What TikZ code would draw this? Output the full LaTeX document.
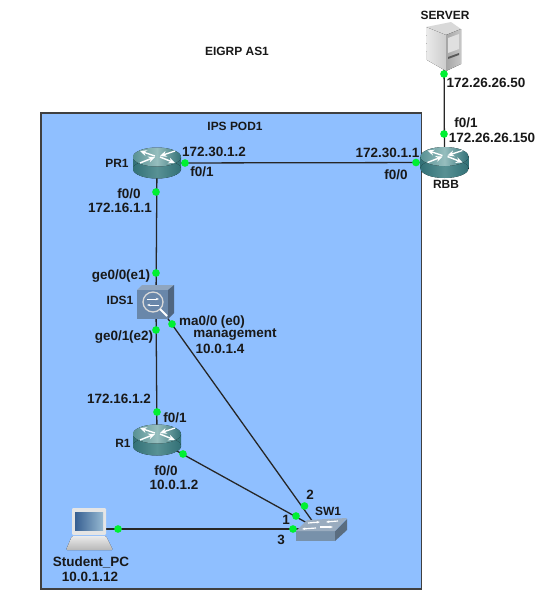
\documentclass[tikz,border=0pt]{standalone}
\usepackage{fontspec}
\setmainfont{Liberation Sans}
\usetikzlibrary{positioning,arrows.meta,calc}
\definecolor{podblue}{RGB}{143,191,255}
\definecolor{routerdark}{RGB}{50,112,118}
\definecolor{routerlight}{RGB}{88,145,148}
\definecolor{routertop}{RGB}{150,190,190}
\definecolor{portgreen}{RGB}{0,240,50}
\definecolor{idsblue}{RGB}{105,135,170}
\definecolor{swgray}{RGB}{120,145,170}
\tikzset{
  podbox/.style={draw=black!75, line width=1.2pt, fill=podblue},
  linkline/.style={line width=1.1pt, black!85},
  portdot/.style={circle, fill=portgreen, inner sep=0pt, minimum size=0.23cm},
  devnode/.style={inner sep=0pt, minimum size=0.3cm},
  lbl/.style={font=\fontsize{11.5}{13}\selectfont\bfseries, inner sep=0pt, text=black!90},
  capslbl/.style={font=\fontsize{10.2}{12}\selectfont\bfseries, inner sep=0pt, text=black!90},
  routerarrow/.style={-{Stealth[length=2mm,width=1.8mm]}, white, line width=1.2pt},
  routerpic/.pic={
    \fill[left color=routerdark, right color=routerdark, middle color=routerlight] (-24,-6) rectangle (24,6);
    \fill[left color=routerdark, right color=routerdark, middle color=routerlight] (0,6) ellipse [x radius=24, y radius=9.5];
    \fill[left color=routerlight, right color=routerdark, middle color=routertop] (0,-6) ellipse [x radius=24, y radius=9.5];
    \draw[routerarrow] (-17,0) -- (-2,-6);
    \draw[routerarrow] (18,-12) -- (3,-7);
    \draw[routerarrow] (-2,-7) -- (-17,-12);
    \draw[routerarrow] (3,-6) -- (18,0);
  },
  serverpic/.pic={
    \fill[black!15] (0,5) -- (25,0) -- (35,7) -- (20,13) -- cycle;
    \fill[left color=black!8, right color=black!20] (0,5) -- (20,13) -- (20,49) -- (1,38) -- cycle;
    \fill[left color=black!35, right color=black!22] (20,13) -- (35,7) -- (35,42) -- (20,49) -- cycle;
    \fill[black!12] (22,16) -- (33,12) -- (33,27) -- (22,31) -- cycle;
    \fill[black!65] (22,35) -- (33,31) -- (33,33) -- (22,37) -- cycle;
  },
  pcpic/.pic={
    \fill[black!10, rounded corners=1pt] (6,0) rectangle (40,27);
    \fill[left color={rgb,255:red,55;green,95;blue,145}, right color={rgb,255:red,150;green,185;blue,210}] (9,4) rectangle (37,22);
    \fill[top color=black!8, bottom color=black!28, rounded corners=1pt] (6,28) -- (40,28) -- (47,42) -- (0,42) -- cycle;
  },
  idspic/.pic={
    \fill[idsblue!75!white] (0,5) -- (5,0) -- (37,0) -- (31,5) -- cycle;
    \fill[idsblue!75!black] (31,5) -- (37,0) -- (37,28) -- (31,34) -- cycle;
    \fill[idsblue] (0,5) rectangle (31,34);
    \draw[white!85!black, line width=1.1pt] (16,17) circle [radius=10];
    \draw[white, line width=1.8pt] (23,24) -- (30,31);
    \draw[-{Stealth[length=1mm]}, white, line width=0.5pt] (10,14) -- (22,14);
    \draw[-{Stealth[length=1mm]}, white, line width=0.5pt] (22,20) -- (10,20);
  },
  switchpic/.pic={
    \fill[swgray] (0,13) -- (39,13) -- (39,23) -- (0,23) -- cycle;
    \fill[swgray!75!black] (39,13) -- (51,1) -- (51,12) -- (39,23) -- cycle;
    \fill[swgray!75!white] (0,13) -- (11,2) -- (51,0) -- (39,13) -- cycle;
    \draw[white, line width=1pt, -{Stealth[length=1mm]}] (12,5) -- (24,4);
    \draw[white, line width=1pt, -{Stealth[length=1mm]}] (42,3) -- (30,4);
    \draw[white, line width=1pt, -{Stealth[length=1mm]}] (20,10) -- (6,11);
    \draw[white, line width=1pt, -{Stealth[length=1mm]}] (24,9) -- (37,9);
  }
}
\begin{document}
\begin{tikzpicture}[x=0.03cm, y=-0.03cm]
  \useasboundingbox (0,0) rectangle (556,603);
  \fill[white] (0,0) rectangle (556,603);
  \draw[podbox] (41,113) rectangle (421.5,589);

  % devices
  \node[devnode] (server) at (444,46) {};
  \node[devnode] (rbb) at (444.5,162.5) {};
  \node[devnode] (pr1) at (157,163) {};
  \node[devnode] (ids1) at (156,302) {};
  \node[devnode] (r1) at (157,440) {};
  \node[devnode] (sw1) at (318,529) {};
  \node[devnode] (pc) at (90,529) {};

  % links
  \draw[linkline] (server) -- (rbb);
  \draw[linkline] (pr1) -- (rbb);
  \draw[linkline] (pr1) -- (ids1);
  \draw[linkline] (ids1) -- (r1);
  \draw[linkline] (ids1) -- (sw1);
  \draw[linkline] (r1) -- (sw1);
  \draw[linkline] (pc) -- (sw1);

  \pic at (426,22) {serverpic};
  \pic at (rbb) {routerpic};
  \pic at (pr1) {routerpic};
  \pic at (137,285) {idspic};
  \pic at (r1) {routerpic};
  \pic at (296,518) {switchpic};
  \pic at (66,508) {pcpic};

  % ports
  \node[portdot] (p1) at (444,74) {};
  \node[portdot] (p2) at (444,134) {};
  \node[portdot] (p3) at (416,162.5) {};
  \node[portdot] (p4) at (185,163) {};
  \node[portdot] (p5) at (156,192) {};
  \node[portdot] (p6) at (156,273) {};
  \node[portdot] (p7) at (156,330) {};
  \node[portdot] (p8) at (172,324) {};
  \node[portdot] (p9) at (157,412) {};
  \node[portdot] (p10) at (183,454) {};
  \node[portdot] (p11) at (296,516) {};
  \node[portdot] (p12) at (304.5,506) {};
  \node[portdot] (p13) at (293,529) {};
  \node[portdot] (p14) at (118,529) {};

  % texts
  \node[capslbl] (tserver) at (445,15) {SERVER};
  \node[capslbl] (teigrp) at (237,51) {EIGRP AS1};
  \node[capslbl] (tpod) at (235,126) {IPS POD1};
  \node[capslbl] (tpr1) at (117,163) {PR1};
  \node[lbl] (tprip) at (214,152) {172.30.1.2};
  \node[lbl] (tprf1) at (202,172) {f0/1};
  \node[lbl] (tprf0) at (129,194) {f0/0};
  \node[lbl] (tprip2) at (120,208) {172.16.1.1};
  \node[lbl] (trbbip) at (387.5,153) {172.30.1.1};
  \node[lbl] (trbbf0) at (396,175) {f0/0};
  \node[capslbl] (trbb) at (446,184) {RBB};
  \node[lbl] (trbbf1) at (466,123) {f0/1};
  \node[lbl] (trbbip2) at (492,138) {172.26.26.150};
  \node[lbl] (tsrvip) at (486,83) {172.26.26.50};
  \node[lbl] (tge0) at (121,276) {ge0/0(e1)};
  \node[capslbl] (tids) at (120,300) {IDS1};
  \node[lbl] (tge1) at (124,337) {ge0/1(e2)};
  \node[lbl] (tma) at (212,322) {ma0/0 (e0)};
  \node[lbl] (tmgmt) at (235,335) {management};
  \node[lbl] (tmgip) at (220,349) {10.0.1.4};
  \node[lbl] (tr1ip) at (119,399) {172.16.1.2};
  \node[lbl] (tr1f1) at (175,418) {f0/1};
  \node[capslbl] (tr1) at (123,443) {R1};
  \node[lbl] (tr1f0) at (166,471) {f0/0};
  \node[lbl] (tr1ip2) at (174,485) {10.0.1.2};
  \node[lbl] (ttwo) at (310,495) {2};
  \node[capslbl] (tsw) at (328,511) {SW1};
  \node[lbl] (tone) at (286,520) {1};
  \node[lbl] (tthree) at (281,540) {3};
  \node[lbl] (tpc) at (91,562) {Student\_PC};
  \node[lbl] (tpcip) at (90,577) {10.0.1.12};
\end{tikzpicture}
\end{document}
